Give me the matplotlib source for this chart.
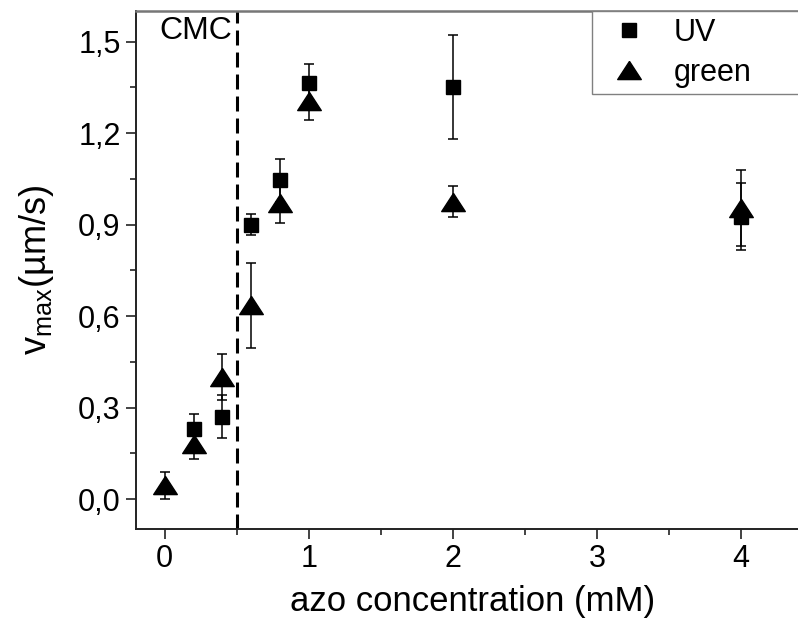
import numpy as np
import matplotlib
matplotlib.use("Agg")
import matplotlib.pyplot as plt
from matplotlib.lines import Line2D
from matplotlib.ticker import MultipleLocator, FuncFormatter

plt.rcParams["font.family"] = ["Liberation Sans", "DejaVu Sans"]
plt.rcParams["mathtext.default"] = "regular"

# azo concentration (mM)
conc = [0.2, 0.4, 0.6, 0.8, 1.0, 2.0, 4.0]
conc_green = [0.0, 0.2, 0.4, 0.6, 0.8, 1.0, 2.0, 4.0]

# v_max under UV light (um/s) and its error
uv_v = [0.23, 0.27, 0.90, 1.045, 1.365, 1.35, 0.925]
uv_err = [0.05, 0.07, 0.035, 0.07, 0.06, 0.17, 0.11]

# v_max under green light (um/s) and its error
green_v = [0.045, 0.18, 0.40, 0.635, 0.97, 1.305, 0.975, 0.955]
green_err = [0.045, 0.05, 0.075, 0.14, 0.065, 0.062, 0.05, 0.125]

cmc = 0.5

W, H = 798, 628
fig = plt.figure(figsize=(W / 100, H / 100), dpi=100)
ax = fig.add_axes([136 / W, 99 / H, (810 - 136) / W, (529 - 11) / H])

# wide, flat triangle
tri = [(0, 1), (-1.3, -1), (1.3, -1), (0, 1)]

ax.errorbar(conc, uv_v, yerr=uv_err, fmt="s", color="black", ms=10.5,
            ecolor="black", elinewidth=1.1, capsize=3.6, capthick=1.1,
            zorder=3)
ax.errorbar(conc_green, green_v, yerr=green_err, fmt="none", ecolor="black",
            elinewidth=1.1, capsize=3.6, capthick=1.1, zorder=3)
ax.plot(conc_green, green_v, linestyle="none", marker=tri, color="black",
        ms=17, zorder=4)

ax.axvline(cmc, color="black", lw=2.2, linestyle=(0, (4.9, 2.3)), zorder=2)
ax.text(cmc - 0.03, 1.585, "CMC", ha="right", va="top", fontsize=23)

ax.set_xlim(-0.2, 4.48)
ax.set_ylim(-0.098, 1.6)
ax.xaxis.set_major_locator(MultipleLocator(1))
ax.xaxis.set_minor_locator(MultipleLocator(0.5))
ax.yaxis.set_major_locator(MultipleLocator(0.3))
ax.yaxis.set_minor_locator(MultipleLocator(0.15))
ax.yaxis.set_major_formatter(FuncFormatter(lambda v, p: f"{v:.1f}".replace(".", ",")))
ax.xaxis.set_major_formatter(FuncFormatter(lambda v, p: f"{v:.0f}"))

ax.tick_params(which="both", direction="out", top=False, right=False,
               colors="#222222", labelcolor="black", labelsize=22)
ax.tick_params(which="major", length=7, width=1.2, pad=4)
ax.tick_params(which="minor", length=4, width=1.2)

for side in ["left", "bottom"]:
    ax.spines[side].set_color("#222222")
    ax.spines[side].set_linewidth(1.4)
ax.spines["top"].set_color("#777777")
ax.spines["top"].set_linewidth(1.8)
ax.spines["right"].set_visible(False)

ax.set_xlabel("azo concentration (mM)", fontsize=25, labelpad=8)
ax.set_ylabel("v$_{max}$(µm/s)", fontsize=26, labelpad=16)

handles = [
    Line2D([], [], linestyle="none", marker="s", color="black", ms=10.5),
    Line2D([], [], linestyle="none", marker=tri, color="black", ms=17),
]
leg = ax.legend(handles, ["UV", "green"], loc="upper left",
                bbox_to_anchor=(0.6766, 0, 0.5, 1.0), mode="expand",
                fontsize=22, frameon=True, fancybox=False,
                borderpad=0.22, labelspacing=0.32, handlelength=2.0,
                handletextpad=0.45, borderaxespad=0, framealpha=1)
leg.get_frame().set_edgecolor("#808080")
leg.get_frame().set_linewidth(1.0)

fig.savefig("out.png", dpi=100)
